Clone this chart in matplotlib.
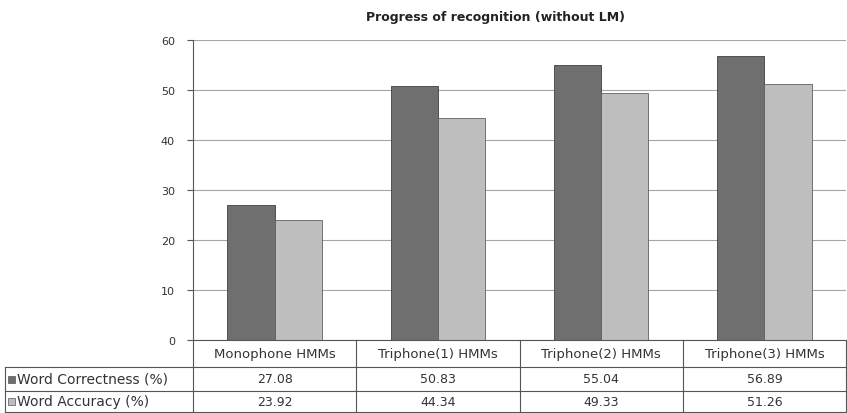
import matplotlib
matplotlib.use("Agg")
import matplotlib.pyplot as plt
import numpy as np
from matplotlib.patches import Rectangle

categories = ["Monophone HMMs", "Triphone(1) HMMs", "Triphone(2) HMMs", "Triphone(3) HMMs"]
series_names = ["Word Correctness (%)", "Word Accuracy (%)"]
correctness = [27.08, 50.83, 55.04, 56.89]
accuracy = [23.92, 44.34, 49.33, 51.26]
value_labels = [["27.08", "50.83", "55.04", "56.89"],
                ["23.92", "44.34", "49.33", "51.26"]]
yticks = [0, 10, 20, 30, 40, 50, 60]

colors = ["#6f6f6f", "#bebebe"]

W, H = 847, 414
fig = plt.figure(figsize=(W / 100, H / 100), dpi=100)
fig.patch.set_facecolor("white")
left_px, right_px, top_px, bottom_px = 193, 846, 41, 341
ax = fig.add_axes([left_px / W, (H - bottom_px) / H, (right_px - left_px) / W, (bottom_px - top_px) / H])

x = np.arange(len(categories))
bw = 0.29
ax.bar(x - bw / 2, correctness, bw, color=colors[0], edgecolor="#404040", linewidth=0.6, zorder=3)
ax.bar(x + bw / 2, accuracy, bw, color=colors[1], edgecolor="#606060", linewidth=0.6, zorder=3)

ax.set_xlim(-0.5, len(categories) - 0.5)
ax.set_ylim(0, 60)
ax.set_yticks(yticks)
ax.set_yticklabels([str(t) for t in yticks], fontsize=8, color="#333333")
ax.set_xticks([])
ax.tick_params(axis="y", length=4, width=0.8, color="#555555", pad=9)
ax.yaxis.grid(True, color="#a5a5a5", linewidth=0.8, zorder=0)
for s in ["top", "right", "bottom"]:
    ax.spines[s].set_visible(False)
ax.spines["left"].set_color("#555555")
ax.spines["left"].set_linewidth(0.8)

fig.text(496 / W, 1 - 17 / H, "Progress of recognition (without LM)",
         ha="center", va="center", fontsize=9, fontweight="bold", color="#222222")

def fx(px):
    return px / W

def fy(py):
    return 1 - py / H

line_kw = dict(color="#555555", linewidth=0.8, transform=fig.transFigure)
col_edges = [193 + i * (846 - 193) / len(categories) for i in range(len(categories) + 1)]
row_y = [341, 368, 392, 413]
fig.add_artist(plt.Line2D([fx(193), fx(846)], [fy(341), fy(341)], **line_kw))
for yy in row_y[1:]:
    fig.add_artist(plt.Line2D([fx(5), fx(846)], [fy(yy), fy(yy)], **line_kw))
for xe in col_edges:
    fig.add_artist(plt.Line2D([fx(xe), fx(xe)], [fy(341), fy(413)], **line_kw))
fig.add_artist(plt.Line2D([fx(5), fx(5)], [fy(368), fy(413)], **line_kw))

for i, cat in enumerate(categories):
    cx = (col_edges[i] + col_edges[i + 1]) / 2
    fig.text(fx(cx), fy((341 + 368) / 2), cat, ha="center", va="center", fontsize=9.5, color="#333333")

for r, name in enumerate(series_names):
    cy = (row_y[r + 1] + row_y[r + 2]) / 2
    fig.add_artist(Rectangle((fx(8), fy(cy + 3.5)), 7 / W, 7 / H, transform=fig.transFigure,
                             facecolor=colors[r], edgecolor="#555555", linewidth=0.5))
    fig.text(fx(17), fy(cy), name, ha="left", va="center", fontsize=10, color="#333333")
    for i, lab in enumerate(value_labels[r]):
        cx = (col_edges[i] + col_edges[i + 1]) / 2
        fig.text(fx(cx), fy(cy), lab, ha="center", va="center", fontsize=9, color="#333333")

fig.savefig("out.png", dpi=100, facecolor="white")
